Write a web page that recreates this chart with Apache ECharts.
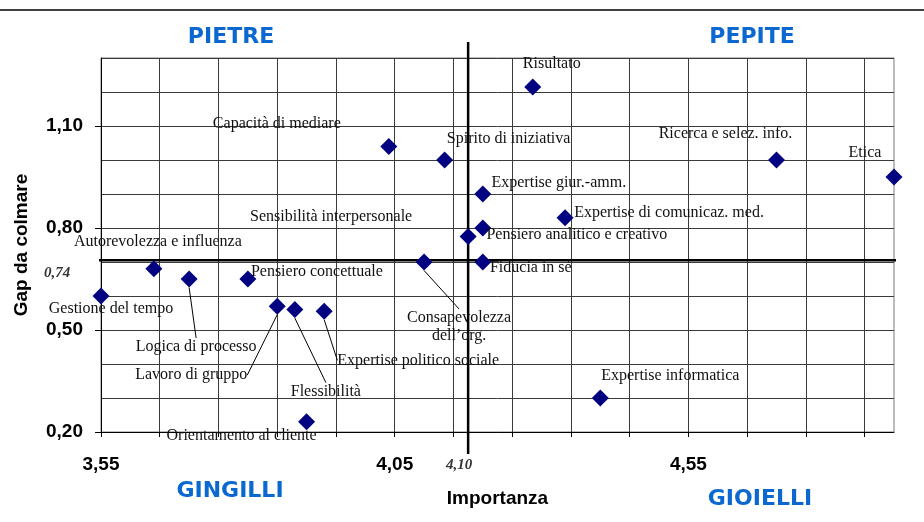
<!DOCTYPE html>
<html>
<head>
<meta charset="utf-8">
<script src="https://cdn.jsdelivr.net/npm/echarts@6/dist/echarts.min.js"></script>
<style>
  html, body { margin: 0; padding: 0; background: #fff; }
  #chart { width: 924px; height: 522px; }
</style>
</head>
<body>
<div id="chart"></div>
<script>
// competenze: importanza (x) e gap da colmare (y)
const names = [
  'Gestione del tempo', 'Autorevolezza e influenza', 'Logica di processo', 'Pensiero concettuale',
  'Lavoro di gruppo', 'Flessibilità', 'Expertise politico sociale', 'Orientamento al cliente',
  'Capacità di mediare', 'Spirito di iniziativa', 'Consapevolezza\ndell’org.', 'Sensibilità interpersonale',
  'Pensiero analitico e creativo', 'Expertise giur.-amm.', 'Fiducia in sè', 'Risultato',
  'Expertise di comunicaz. med.', 'Expertise informatica', 'Ricerca e selez. info.', 'Etica'
]
const importanza = [3.55, 3.64, 3.70, 3.80, 3.85, 3.88, 3.93, 3.90, 4.04, 4.135, 4.10, 4.175, 4.20, 4.20, 4.20, 4.285, 4.34, 4.40, 4.70, 4.90]
const gap = [0.60, 0.68, 0.65, 0.65, 0.57, 0.56, 0.555, 0.23, 1.04, 1.00, 0.70, 0.775, 0.80, 0.90, 0.70, 1.215, 0.83, 0.30, 1.00, 0.95]

// etichette collegate con una linea
const withLeader = ['Logica di processo', 'Lavoro di gruppo', 'Flessibilità', 'Expertise politico sociale', 'Consapevolezza\ndell’org.']

// spostamento etichette rispetto al punto (px)
const labelShift = [
  [10, 13], [4, -27], [7, 68], [69, -7], [-86, 69], [31, 82], [94, 49], [-65, 14],
  [-112, -23], [64, -21], [35, 65], [-137, -20], [94, 7], [76, -11], [48, 6], [19, -23],
  [104, -5], [70, -22], [-51, -26], [-29, -24]
]

// assi
const xTicks = [3.55, 3.65, 3.75, 3.85, 3.95, 4.05, 4.15, 4.25, 4.35, 4.45, 4.55, 4.65, 4.75, 4.85]
const xLabels = [3.55, 4.05, 4.55]
const yLabels = [0.20, 0.50, 0.80, 1.10]

// linee dei quadranti (posizione come nel grafico) e loro etichette
const crossX = 4.175
const crossY = 0.705
const crossXLabel = '4,10'
const crossYLabel = '0,74'
const vLineY = [1.347, 0.135]
const hLineX = [3.467, 5.0]

const fmt = v => v.toFixed(2).replace('.', ',')

const chart = echarts.init(document.getElementById('chart'))

const axisFont = { fontFamily: 'Liberation Sans', fontWeight: 'bold', fontSize: 19, color: '#000' }
const quadFont = 'bold 22px "DejaVu Sans"'
const blue = '#0a68d0'

const option = {
  animation: false,
  grid: {
    left: 101, right: 30, top: 58, bottom: 90,
    outerBoundsMode: 'none',
    show: true, borderColor: '#7a7a7a', borderWidth: 1
  },
  xAxis: {
    type: 'value',
    min: 3.55,
    max: 4.90,
    name: 'Importanza',
    nameLocation: 'middle',
    nameGap: 57,
    nameTextStyle: axisFont,
    axisLine: { show: true, onZero: false, lineStyle: { color: '#000', width: 1 } },
    axisTick: { show: true, customValues: xTicks, length: 5, lineStyle: { color: '#000' } },
    axisLabel: { customValues: xLabels, formatter: v => fmt(v), margin: 23, ...axisFont },
    splitLine: { show: true, lineStyle: { color: '#3a3a3a', width: 1 } }
  },
  yAxis: [
    {
      type: 'value',
      min: 0.2,
      max: 1.3,
      interval: 0.1,
      axisLine: { show: true, onZero: false, lineStyle: { color: '#000', width: 1 } },
      axisTick: { show: false },
      axisLabel: { show: false },
      splitLine: { show: true, lineStyle: { color: '#3a3a3a', width: 1 } }
    },
    {
      type: 'value',
      min: 0.2,
      max: 1.3,
      position: 'left',
      name: 'Gap da colmare',
      nameLocation: 'middle',
      nameGap: 70,
      nameTextStyle: axisFont,
      axisLine: { show: false },
      axisTick: { show: true, customValues: yLabels, length: 6, lineStyle: { color: '#000' } },
      axisLabel: { customValues: yLabels, formatter: v => fmt(v), margin: 18, ...axisFont },
      splitLine: { show: false }
    }
  ],
  graphic: [
    { type: 'line', shape: { x1: 0, y1: 10, x2: 924, y2: 10 }, style: { stroke: '#000', lineWidth: 1.5 } },
    { type: 'text', x: 231, y: 37, style: { text: 'PIETRE', font: quadFont, fill: blue, align: 'center', verticalAlign: 'middle' } },
    { type: 'text', x: 752, y: 37, style: { text: 'PEPITE', font: quadFont, fill: blue, align: 'center', verticalAlign: 'middle' } },
    { type: 'text', x: 230, y: 491, style: { text: 'GINGILLI', font: quadFont, fill: blue, align: 'center', verticalAlign: 'middle' } },
    { type: 'text', x: 760, y: 499, style: { text: 'GIOIELLI', font: quadFont, fill: blue, align: 'center', verticalAlign: 'middle' } }
  ],
  series: [
    {
      type: 'line',
      data: [[crossX, vLineY[0]], [crossX, vLineY[1]]],
      clip: false,
      symbol: 'none',
      silent: true,
      z: 1,
      lineStyle: { color: '#000', width: 2.5 }
    },
    {
      type: 'line',
      data: [[hLineX[0], crossY], [hLineX[1], crossY]],
      clip: false,
      symbol: 'none',
      silent: true,
      z: 1,
      lineStyle: { color: '#000', width: 2.5 }
    },
    {
      type: 'scatter',
      clip: false,
      silent: true,
      symbolSize: 0,
      z: 1,
      label: {
        show: true,
        position: 'inside',
        fontFamily: 'Liberation Serif',
        fontStyle: 'italic',
        fontWeight: 'bold',
        fontSize: 15,
        color: '#000'
      },
      data: [
        { value: [crossX, vLineY[1]], label: { formatter: crossXLabel, offset: [-9, 11] } },
        { value: [hLineX[0], crossY], label: { formatter: crossYLabel, offset: [5, 13] } }
      ]
    },
    {
      type: 'scatter',
      symbol: 'diamond',
      symbolSize: 17,
      clip: false,
      z: 3,
      itemStyle: { color: '#000080', opacity: 1 },
      emphasis: { disabled: true },
      label: {
        show: true,
        position: 'inside',
        formatter: p => p.name,
        fontFamily: 'Liberation Serif',
        fontSize: 16,
        lineHeight: 18,
        color: '#111'
      },
      labelLine: { lineStyle: { color: '#000', width: 1 } },
      labelLayout: p => ({ dx: labelShift[p.dataIndex][0], dy: labelShift[p.dataIndex][1] }),
      data: names.map((n, i) => ({
        name: n,
        value: [importanza[i], gap[i]],
        labelLine: { show: withLeader.includes(n) }
      }))
    }
  ]
}

chart.setOption(option)
</script>
</body>
</html>
